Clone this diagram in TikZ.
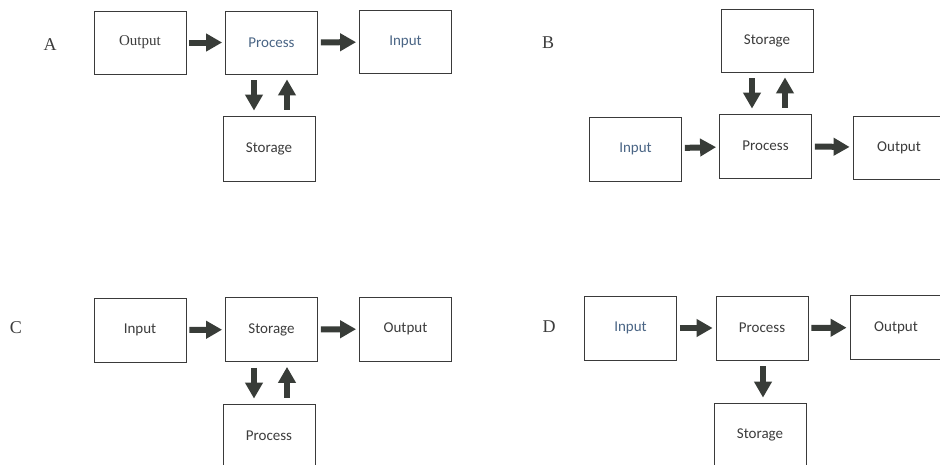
\documentclass[tikz,border=0pt]{standalone}
\usepackage{fontspec}
\setmainfont{Liberation Serif}
\newfontfamily\calib{Carlito}
\usetikzlibrary{arrows.meta,calc}
\definecolor{boxline}{HTML}{3A3A3A}
\definecolor{arrowcol}{HTML}{383C38}
\definecolor{txtgray}{HTML}{3C3C3C}
\definecolor{txtblue}{HTML}{4A6585}
\tikzset{
  box/.style={draw=boxline, line width=0.8pt, minimum width=92pt, minimum height=63pt, inner sep=0pt, font=\calib\fontsize{15}{17}\selectfont, text=txtgray},
  bluetxt/.style={text=txtblue},
  panellabel/.style={font=\fontsize{18}{20}\selectfont, text=txtgray},
  fat/.style={draw=arrowcol, line width=6pt, -{Triangle[length=16pt,width=17pt]}, shorten <=3pt, shorten >=3pt},
  fatv/.style={draw=arrowcol, line width=6pt, -{Triangle[length=16pt,width=17pt]}, shorten <=6pt, shorten >=5pt}
}
\begin{document}
\begin{tikzpicture}[x=1pt,y=-1pt]
\useasboundingbox (0,0) rectangle (940,464);
\clip (0,0) rectangle (940,464);
\fill[white] (0,0) rectangle (940,464);
% Panel A
\node[panellabel] (lA) at (50,45) {A};
\node[box, text=txtgray, font=\fontsize{15}{17}\selectfont] (aO) at (140,42.5) {Output};
\node[box, bluetxt] (aP) at (271.5,42.5) {Process};
\node[box, bluetxt] (aI) at (405.5,42) {Input};
\node[box, minimum height=65pt] (aS) at (269,148.5) {Storage};
\draw[fat] (aO) -- (aP);
\draw[fat] (aP) -- (aI);
\draw[fatv] ([xshift=-17.5pt]aP.south) -- ([xshift=-17.5pt]aP.south |- aS.north);
\draw[fatv] ([xshift=15.5pt]aP.south |- aS.north) -- ([xshift=15.5pt]aP.south);
% Panel B
\node[panellabel] (lB) at (548,43) {B};
\node[box] (bS) at (767,40.5) {Storage};
\node[box, bluetxt, minimum height=64pt] (bI) at (635.5,149) {Input};
\node[box, minimum height=64pt] (bP) at (765.5,146) {Process};
\node[box] (bO) at (899,147.5) {Output};
\draw[fat] (bI) -- (bP);
\draw[fat] (bP) -- (bO);
\draw[fatv] ([xshift=-13.5pt]bP.north |- bS.south) -- ([xshift=-13.5pt]bP.north);
\draw[fatv] ([xshift=19.5pt]bP.north) -- ([xshift=19.5pt]bP.north |- bS.south);
% Panel C
\node[panellabel] (lC) at (16,328) {C};
\node[box, minimum height=64pt] (cI) at (140,330) {Input};
\node[box, minimum height=64pt] (cS) at (271.5,329.5) {Storage};
\node[box, minimum height=64pt] (cO) at (405.5,329) {Output};
\node[box, minimum height=64pt] (cP) at (269,436) {Process};
\draw[fat] (cI) -- (cS);
\draw[fat] (cS) -- (cO);
\draw[fatv] ([xshift=-17.5pt]cS.south) -- ([xshift=-17.5pt]cS.south |- cP.north);
\draw[fatv] ([xshift=15.5pt]cS.south |- cP.north) -- ([xshift=15.5pt]cS.south);
% Panel D
\node[panellabel] (lD) at (549,327) {D};
\node[box, bluetxt, minimum height=64pt] (dI) at (630.5,328) {Input};
\node[box, minimum height=64pt] (dP) at (762,328) {Process};
\node[box, minimum height=64pt] (dO) at (896,327.5) {Output};
\node[box, minimum height=64pt] (dS) at (760,435) {Storage};
\draw[fat] (dI) -- (dP);
\draw[fat] (dP) -- (dO);
\draw[fatv] ([xshift=1pt]dP.south) -- ([xshift=1pt]dP.south |- dS.north);
\end{tikzpicture}
\end{document}
